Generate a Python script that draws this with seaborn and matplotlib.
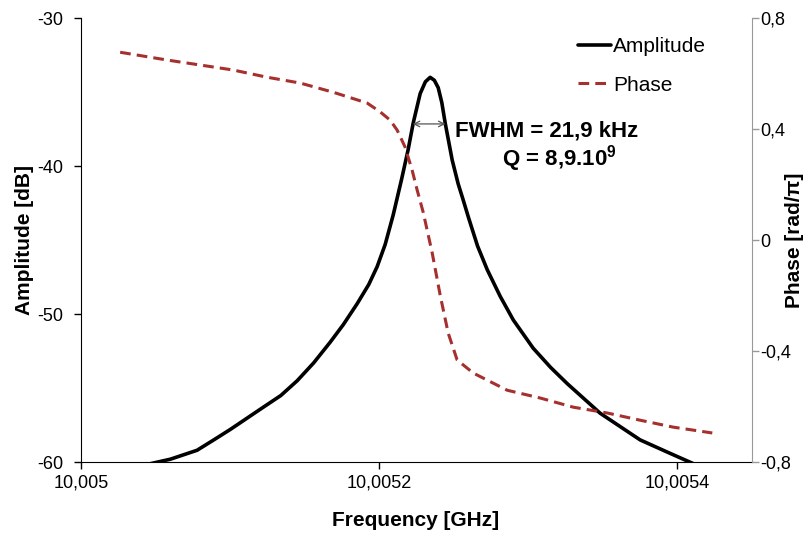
import numpy as np
import pandas as pd
import matplotlib
matplotlib.use("Agg")
import matplotlib.pyplot as plt
import seaborn as sns

# Amplitude trace (frequency in GHz, amplitude in dB)
amp_freq = [10.0050380, 10.0050600, 10.0050778, 10.0050890, 10.0051000, 10.0051221,
            10.0051340, 10.0051450, 10.0051560, 10.0051671, 10.0051760, 10.0051852,
            10.0051930, 10.0051986, 10.0052040, 10.0052094, 10.0052150, 10.0052194,
            10.0052228, 10.0052275, 10.0052310, 10.0052342, 10.0052370, 10.0052396,
            10.0052420, 10.0052443, 10.0052490, 10.0052530, 10.0052564, 10.0052600,
            10.0052660, 10.0052725, 10.0052812, 10.0052900, 10.0053033, 10.0053150,
            10.0053262, 10.0053483, 10.0053751, 10.0053950, 10.0054107, 10.0054235]
amp_db = [-60.3, -59.8, -59.2, -58.5, -57.8, -56.3,
          -55.5, -54.5, -53.3, -51.9, -50.7, -49.3,
          -48.0, -46.8, -45.3, -43.3, -40.9, -38.9,
          -37.1, -35.1, -34.3, -34.0, -34.2, -34.7,
          -35.7, -37.1, -39.6, -41.2, -42.3, -43.5,
          -45.4, -47.0, -48.8, -50.4, -52.3, -53.6,
          -54.7, -56.7, -58.5, -59.4, -60.1, -60.5]

# Phase trace (frequency in GHz, phase in rad/pi)
phase_freq = [10.0050262, 10.0050577, 10.0050799, 10.0051020, 10.0051248, 10.0051470,
              10.0051691, 10.0051919, 10.0052007, 10.0052074, 10.0052121, 10.0052174,
              10.0052221, 10.0052255, 10.0052295, 10.0052356, 10.0052409, 10.0052463,
              10.0052523, 10.0052631, 10.0052859, 10.0053080, 10.0053302, 10.0053530,
              10.0053751, 10.0053973, 10.0054235]
phase_val = [0.677, 0.649, 0.631, 0.613, 0.587, 0.566,
             0.533, 0.494, 0.462, 0.432, 0.396, 0.335,
             0.252, 0.180, 0.101, -0.047, -0.198, -0.335,
             -0.432, -0.479, -0.541, -0.569, -0.602, -0.623,
             -0.649, -0.674, -0.695]

x_ticks = [10.005, 10.0052, 10.0054]
x_labels = ["10,005", "10,0052", "10,0054"]
amp_ticks = [-60, -50, -40, -30]
phase_ticks = [-0.8, -0.4, 0, 0.4, 0.8]
phase_labels = ["-0,8", "-0,4", "0", "0,4", "0,8"]

# FWHM annotation values
peak_freq = 10.0052335
fwhm_ghz = 21.9e-6
half_level = -37.15

amp_df = pd.DataFrame({"freq": amp_freq, "amp": amp_db})
phase_df = pd.DataFrame({"freq": phase_freq, "phase": phase_val})

sns.set_style("ticks")
plt.rcParams["font.family"] = ["Liberation Sans", "DejaVu Sans"]
plt.rcParams["mathtext.fontset"] = "custom"
plt.rcParams["mathtext.rm"] = "Liberation Sans"
plt.rcParams["mathtext.bf"] = "Liberation Sans:bold"
plt.rcParams["axes.unicode_minus"] = False
plt.rcParams["text.color"] = "black"
plt.rcParams["axes.labelcolor"] = "black"
plt.rcParams["xtick.color"] = "black"
plt.rcParams["ytick.color"] = "black"

fig, ax = plt.subplots(figsize=(8.11, 5.33), dpi=100)
fig.subplots_adjust(left=0.1, right=0.927, top=0.966, bottom=0.133)
ax2 = ax.twinx()

sns.lineplot(data=amp_df, x="freq", y="amp", ax=ax, color="black", lw=2.6, label="Amplitude", legend=False)
sns.lineplot(data=phase_df, x="freq", y="phase", ax=ax2, color="#A5302E", lw=2.2,
             dashes=False, label="Phase", legend=False)
ax2.lines[0].set_linestyle((0, (3.5, 2)))

ax.set_xlim(10.005, 10.00545)
ax.set_ylim(-60, -30)
ax2.set_ylim(-0.8, 0.8)

ax.set_xticks(x_ticks)
ax.set_xticklabels(x_labels)
ax.set_yticks(amp_ticks)
ax2.set_yticks(phase_ticks)
ax2.set_yticklabels(phase_labels)

ax.set_xlabel("Frequency [GHz]", fontsize=15, fontweight="bold")
ax.set_ylabel("Amplitude [dB]", fontsize=15, fontweight="bold")
ax2.set_ylabel("Phase [rad/\u03c0]", fontsize=15, fontweight="bold")
ax.xaxis.set_label_coords(0.498, -0.11)
ax.yaxis.set_label_coords(-0.07, 0.5)
ax2.yaxis.set_label_coords(1.05, 0.5)

ax.tick_params(axis="x", labelsize=13, length=5, width=1, color="black", pad=4)
ax.tick_params(axis="y", labelsize=13, length=5, width=1, color="black", pad=8)
ax2.tick_params(axis="y", labelsize=13, length=5, width=1, color="#999999", labelcolor="black", pad=1)

for side in ["top", "right"]:
    ax.spines[side].set_visible(False)
for side in ["top", "left", "bottom"]:
    ax2.spines[side].set_visible(False)
ax2.spines["right"].set_color("#999999")
ax.spines["left"].set_color("black")
ax.spines["bottom"].set_color("black")

# FWHM arrow and texts
ax.annotate("", xy=(peak_freq - fwhm_ghz / 2, half_level), xytext=(peak_freq + fwhm_ghz / 2, half_level),
            arrowprops=dict(arrowstyle="<->", color="#555555", lw=0.9, shrinkA=0, shrinkB=0))
ax.text(10.005251, -37.6, "FWHM = 21,9 kHz", fontsize=16, fontweight="bold", va="center", ha="left")
ax.text(10.005321, -39.5, "Q = 8,9.10$^{\\mathbf{9}}$", fontsize=16, fontweight="bold", va="center", ha="center")

handles = ax.lines[:1] + ax2.lines[:1]
leg = ax2.legend(handles, ["Amplitude", "Phase"], loc="upper right", bbox_to_anchor=(0.96, 1.0),
                 frameon=False, fontsize=15, handlelength=1.6, handletextpad=0.1, labelspacing=0.95)

fig.savefig("out.png", dpi=100)
